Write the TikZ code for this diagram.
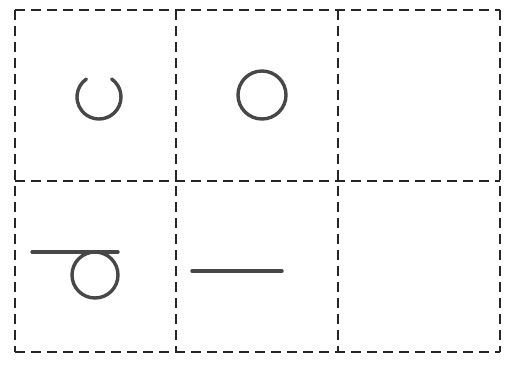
\documentclass[tikz,border=0pt]{standalone}
\usepackage{tikz}
\usetikzlibrary{calc}

\tikzset{
  gridline/.style={black!85,line width=2pt,dash pattern=on 10pt off 6pt},
  glyph/.style={black!72,line width=3.4pt,line cap=round}
}

\begin{document}
\begin{tikzpicture}[x=1pt,y=-1pt]
    \useasboundingbox (0,0) rectangle (506,365);
    % dashed grid, 3 x 2 cells
    \foreach \gx in {15,176,338,500}
      \draw[gridline] (\gx,10) -- (\gx,352);
    \foreach \gy in {10,181,352}
      \draw[gridline] (15,\gy) -- (500,\gy);
    % cell centres
    \coordinate (A0) at (99,97);
    \coordinate (B0) at (262,95);
    \coordinate (D0) at (95,275);
    \coordinate (D1) at (32,252);
    \coordinate (D2) at (118,252);
    \coordinate (E1) at (192,271);
    \coordinate (E2) at (282,271);
    % open ring
    \draw[glyph] ($(A0)+(305:22)$) arc[start angle=305,end angle=595,radius=22];
    % closed ring
    \draw[glyph] (B0) circle[radius=24];
    % bar with loop
    \draw[glyph] (D1) -- (D2);
    \draw[glyph] (D0) circle[radius=23];
    % bar
    \draw[glyph] (E1) -- (E2);
\end{tikzpicture}
\end{document}
